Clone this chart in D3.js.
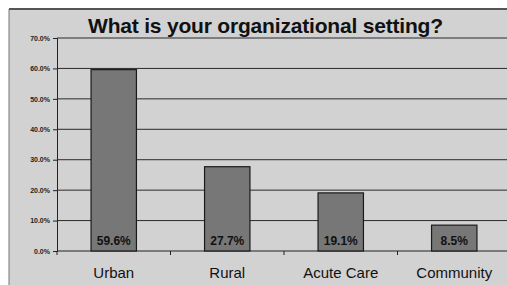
<!DOCTYPE html>
<html>
<head>
<meta charset="utf-8">
<script src="https://cdn.jsdelivr.net/npm/d3@7"></script>
<style>
  body { margin: 0; background: #fff; }
  svg { display: block; font-family: "Liberation Sans", Arial, sans-serif; }
</style>
</head>
<body>
<div id="chart"></div>
<script>
// chart data
const categories = ["Urban", "Rural", "Acute Care", "Community"];
const values = [59.6, 27.7, 19.1, 8.5];
const yTicks = [0, 10, 20, 30, 40, 50, 60, 70];
const title = "What is your organizational setting?";

const W = 507, H = 285;
const margin = { top: 38, right: -4, bottom: 34, left: 57 };
const width = W - margin.left - margin.right;
const height = H - margin.top - margin.bottom;

const svg = d3.select('#chart')
  .append('svg')
    .attr('width', W)
    .attr('height', H);

// speckled grey background + frame
svg.append('rect')
    .attr('x', 0).attr('y', 0)
    .attr('width', W).attr('height', H)
    .attr('fill', '#fff');
svg.append('rect')
    .attr('x', 9).attr('y', 9)
    .attr('width', W - 9).attr('height', H - 9)
    .attr('fill', '#d2d2d2');
svg.append('line')
    .attr('x1', 9).attr('x2', W).attr('y1', 9).attr('y2', 9)
    .attr('stroke', '#555').attr('stroke-width', 2);
svg.append('line')
    .attr('x1', 9).attr('x2', 9).attr('y1', 9).attr('y2', H)
    .attr('stroke', '#777').attr('stroke-width', 1);

const g = svg.append('g')
    .attr('transform', `translate(${margin.left},${margin.top})`);

const x = d3.scaleBand()
  .domain(categories)
  .range([0, width])
  .paddingInner(0.6)
  .paddingOuter(0.3);

const y = d3.scaleLinear()
  .domain([0, 70])
  .range([height, 0]);

// gridlines
g.selectAll('.grid')
  .data(yTicks.slice(1))
  .enter()
  .append('line')
    .attr('class', 'grid')
    .attr('x1', 0).attr('x2', width)
    .attr('y1', d => y(d)).attr('y2', d => y(d))
    .attr('stroke', '#2a2a2a')
    .attr('stroke-width', 1);

// y axis
const yAxis = d3.axisLeft(y)
  .tickValues(yTicks)
  .tickSize(4)
  .tickFormat(d => d.toFixed(1) + '%');

const yG = g.append('g').call(yAxis);
yG.select('.domain').attr('stroke', '#222');
yG.selectAll('line').attr('stroke', '#222');
yG.selectAll('text')
    .attr('fill', '#222')
    .style('font-size', '7px')
    .style('font-weight', 'bold');

// x axis
const xBoundary = d3.scaleLinear().domain([0, categories.length]).range([0, width]);
g.append('line')
    .attr('x1', 0).attr('x2', width)
    .attr('y1', height).attr('y2', height)
    .attr('stroke', '#222');
g.selectAll('.xtick')
  .data(d3.range(categories.length + 1))
  .enter()
  .append('line')
    .attr('x1', d => xBoundary(d)).attr('x2', d => xBoundary(d))
    .attr('y1', height).attr('y2', height + 4)
    .attr('stroke', '#222');

g.selectAll('.xlabel')
  .data(categories)
  .enter()
  .append('text')
    .attr('x', d => x(d) + x.bandwidth() / 2)
    .attr('y', height + 27)
    .attr('text-anchor', 'middle')
    .style('font-size', '15px')
    .attr('fill', '#111')
    .text(d => d);

// bars
g.selectAll('.bar')
  .data(values)
  .enter()
  .append('rect')
    .attr('x', (d, i) => x(categories[i]))
    .attr('y', d => y(d))
    .attr('width', x.bandwidth())
    .attr('height', d => height - y(d))
    .attr('fill', '#777')
    .attr('stroke', '#1a1a1a')
    .attr('stroke-width', 1.2);

// value labels
g.selectAll('.vlabel')
  .data(values)
  .enter()
  .append('text')
    .attr('x', (d, i) => x(categories[i]) + x.bandwidth() / 2)
    .attr('y', height - 6)
    .attr('text-anchor', 'middle')
    .style('font-size', '12px')
    .style('font-weight', 'bold')
    .attr('fill', '#111')
    .text(d => d.toFixed(1) + '%');

// title
svg.append('text')
    .attr('x', 88)
    .attr('y', 33)
    .attr('textLength', 355)
    .style('font-size', '21px')
    .style('font-weight', 'bold')
    .attr('fill', '#111')
    .text(title);
</script>
</body>
</html>
